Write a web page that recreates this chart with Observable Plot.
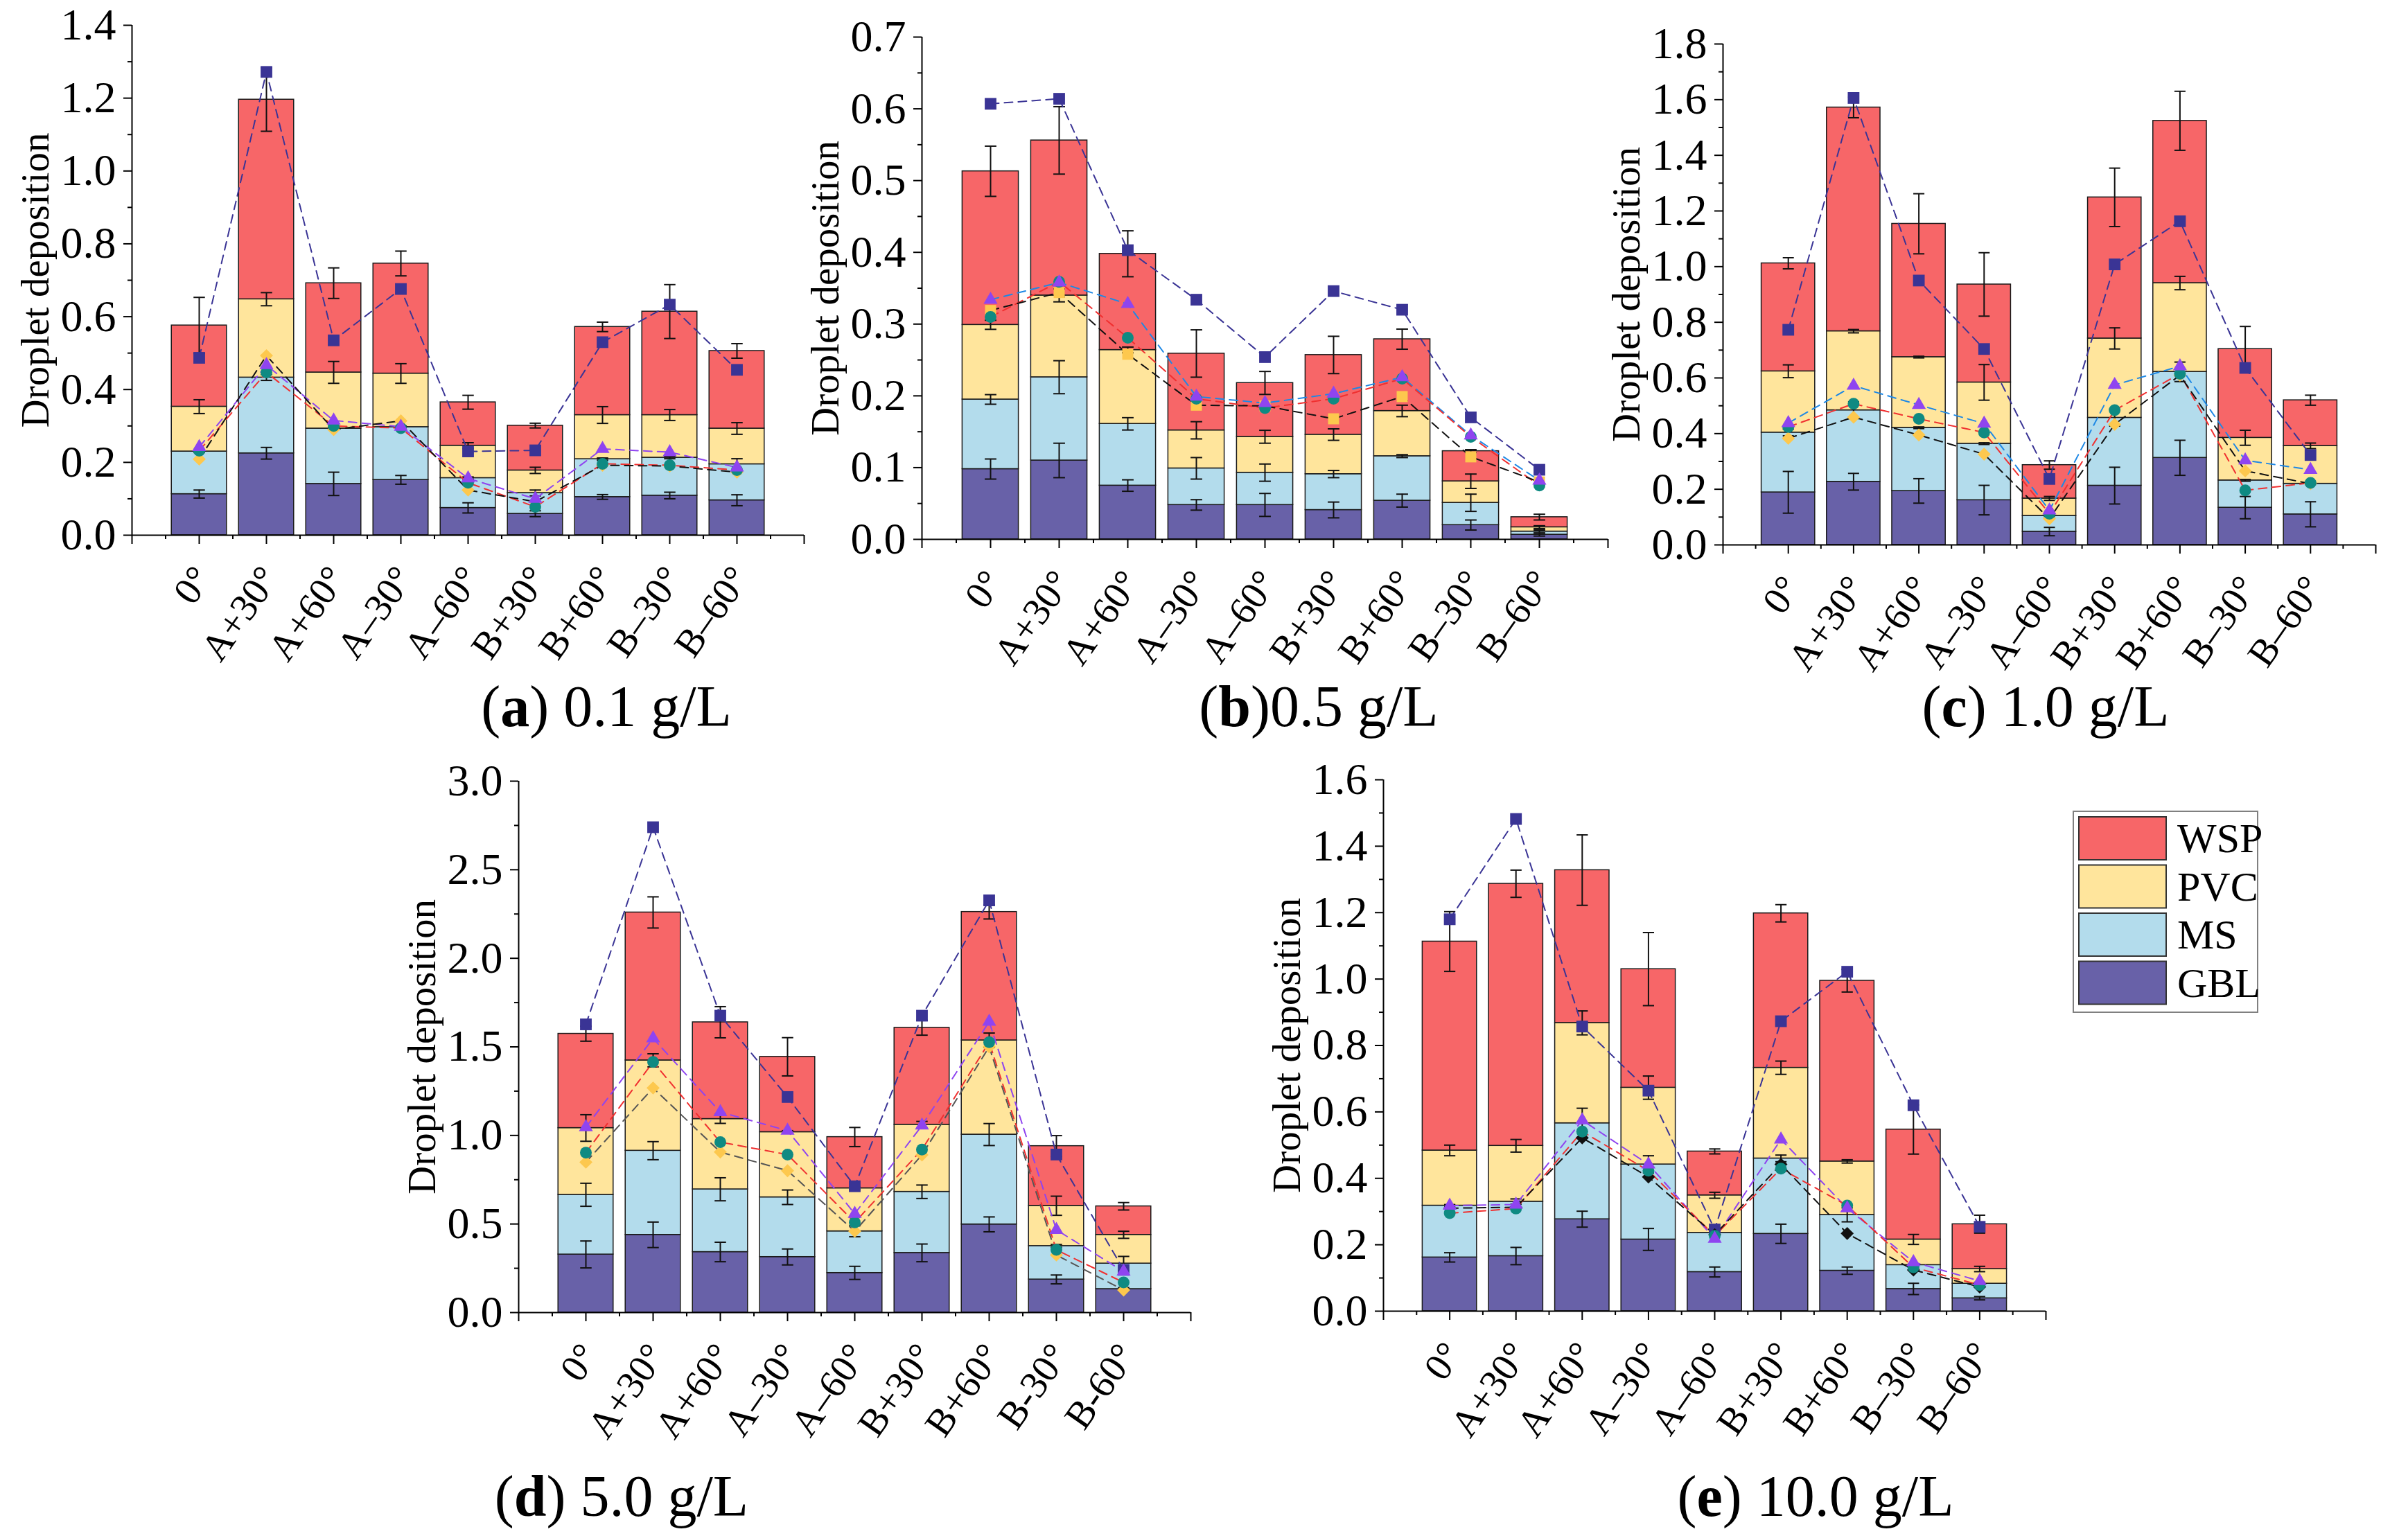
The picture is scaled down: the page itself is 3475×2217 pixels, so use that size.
<!DOCTYPE html>
<html><head><meta charset="utf-8">
<script src="https://cdn.jsdelivr.net/npm/d3@7"></script>
<script src="https://cdn.jsdelivr.net/npm/@observablehq/plot@0.6"></script>
<style>
body{margin:0;background:#fff;}
#root{position:relative;width:3475px;height:2217px;background:#fff;overflow:hidden;font-family:"Liberation Serif","Times New Roman",serif;}
.panel{position:absolute;}
.panel svg, .panel svg text{font-family:"Liberation Serif","Times New Roman",serif !important;}
</style></head><body><div id="root"></div>
<script>
// ---------- categories / tick labels ----------
const categories  = ["0°","A+30°","A+60°","A–30°","A–60°","B+30°","B+60°","B–30°","B–60°"];
const categoriesD = ["0°","A+30°","A+60°","A–30°","A–60°","B+30°","B+60°","B-30°","B-60°"];
const components = ["GBL","MS","PVC","WSP"];
const legendOrder = ["WSP","PVC","MS","GBL"];
const compColors = {GBL:"#6861a8", MS:"#b3dcec", PVC:"#ffe59c", WSP:"#f76668"};

// ---------- (a) 0.1 g/L ----------
const gblA = [0.113,0.225,0.141,0.152,0.075,0.059,0.105,0.109,0.096];
const msA  = [0.117,0.208,0.152,0.145,0.082,0.057,0.104,0.104,0.099];
const pvcA = [0.123,0.215,0.154,0.147,0.089,0.062,0.121,0.117,0.098];
const wspA = [0.223,0.548,0.245,0.302,0.119,0.123,0.242,0.284,0.213];
const gblErrA = [0.011,0.016,0.032,0.012,0.014,0.008,0.0065,0.009,0.015];
const msErrA  = [0.003,0.008,0.003,0.003,0.003,0.008,0.003,0.003,0.015];
const pvcErrA = [0.019,0.018,0.030,0.027,0.008,0.0085,0.023,0.015,0.016];
const wspErrA = [0.077,0.087,0.042,0.034,0.019,0.0065,0.013,0.074,0.020];
const sqA  = [0.487,1.272,0.535,0.676,0.230,0.233,0.530,0.633,0.454];
const triA = [0.242,0.467,0.315,0.298,0.156,0.100,0.237,0.228,0.186];
const cirA = [0.232,0.447,0.300,0.294,0.144,0.078,0.196,0.192,0.179];
const diaA = [0.209,0.493,0.290,0.314,0.124,0.092,0.192,0.190,0.173];

// ---------- (b) 0.5 g/L ----------
const gblB = [0.098,0.110,0.075,0.048,0.048,0.041,0.054,0.020,0.0066];
const msB  = [0.097,0.116,0.086,0.051,0.045,0.050,0.062,0.031,0.0044];
const pvcB = [0.104,0.114,0.103,0.053,0.050,0.055,0.063,0.030,0.006];
const wspB = [0.214,0.216,0.134,0.107,0.075,0.111,0.100,0.042,0.014];
const gblErrB = [0.014,0.024,0.008,0.0073,0.016,0.011,0.009,0.007,0.002];
const msErrB  = [0.0067,0.023,0.0086,0.015,0.012,0.005,0.002,0.012,0.002];
const pvcErrB = [0.0063,0.009,0.004,0.012,0.009,0.008,0.008,0.010,0.002];
const wspErrB = [0.035,0.047,0.032,0.033,0.016,0.026,0.014,0.002,0.004];
const sqB  = [0.607,0.614,0.403,0.334,0.254,0.346,0.320,0.170,0.097];
const triB = [0.334,0.358,0.328,0.199,0.190,0.203,0.226,0.145,0.082];
const cirB = [0.310,0.359,0.281,0.196,0.183,0.196,0.224,0.143,0.075];
const diaB = [0.319,0.344,0.258,0.187,0.186,0.168,0.199,0.115,0.080];

// ---------- (c) 1.0 g/L ----------
const gblC = [0.189,0.227,0.194,0.161,0.048,0.213,0.313,0.134,0.110];
const msC  = [0.215,0.257,0.227,0.203,0.057,0.244,0.309,0.098,0.110];
const pvcC = [0.220,0.284,0.254,0.220,0.062,0.285,0.319,0.153,0.136];
const wspC = [0.388,0.804,0.479,0.352,0.120,0.507,0.583,0.319,0.164];
const gblErrC = [0.075,0.030,0.044,0.053,0.015,0.066,0.063,0.040,0.045];
const msErrC  = [0.012,0.030,0.003,0.003,0.003,0.030,0.035,0.003,0.003];
const pvcErrC = [0.023,0.006,0.003,0.064,0.007,0.038,0.024,0.027,0.010];
const wspErrC = [0.020,0.037,0.108,0.114,0.015,0.105,0.106,0.081,0.018];
const sqC  = [0.773,1.606,0.950,0.704,0.237,1.008,1.163,0.636,0.323];
const triC = [0.438,0.572,0.503,0.436,0.124,0.575,0.642,0.304,0.270];
const cirC = [0.424,0.507,0.453,0.404,0.112,0.484,0.615,0.196,0.223];
const diaC = [0.383,0.459,0.395,0.326,0.094,0.433,0.610,0.266,0.220];

// ---------- (d) 5.0 g/L ----------
const gblD = [0.328,0.439,0.342,0.314,0.224,0.337,0.498,0.187,0.133];
const msD  = [0.337,0.475,0.354,0.337,0.235,0.345,0.507,0.189,0.144];
const pvcD = [0.377,0.510,0.397,0.368,0.243,0.379,0.532,0.227,0.162];
const wspD = [0.532,0.835,0.546,0.425,0.289,0.547,0.725,0.337,0.161];
const gblErrD = [0.076,0.072,0.055,0.045,0.037,0.050,0.042,0.025,0.008];
const msErrD  = [0.065,0.051,0.065,0.041,0.031,0.038,0.062,0.008,0.040];
const pvcErrD = [0.075,0.037,0.025,0.008,0.008,0.018,0.041,0.054,0.020];
const wspErrD = [0.042,0.088,0.088,0.108,0.054,0.042,0.040,0.059,0.021];
const sqD  = [1.627,2.740,1.676,1.217,0.713,1.676,2.327,0.892,0.241];
const triD = [1.047,1.548,1.132,1.027,0.558,1.056,1.642,0.467,0.232];
const cirD = [0.903,1.415,0.962,0.892,0.509,0.920,1.526,0.354,0.170];
const diaD = [0.849,1.268,0.906,0.801,0.459,0.890,1.500,0.325,0.127];

// ---------- (e) 10.0 g/L ----------
const gblE = [0.162,0.166,0.277,0.216,0.118,0.233,0.122,0.067,0.039];
const msE  = [0.156,0.164,0.289,0.226,0.118,0.227,0.168,0.072,0.044];
const pvcE = [0.166,0.168,0.302,0.231,0.113,0.273,0.161,0.077,0.044];
const wspE = [0.629,0.789,0.460,0.357,0.132,0.465,0.544,0.331,0.135];
const gblErrE = [0.014,0.026,0.024,0.033,0.015,0.029,0.011,0.017,0.005];
const msErrE  = [0.003,0.008,0.045,0.026,0.003,0.010,0.021,0.003,0.004];
const pvcErrE = [0.016,0.019,0.036,0.035,0.009,0.020,0.005,0.015,0.008];
const wspErrE = [0.090,0.041,0.106,0.110,0.0075,0.026,0.034,0.074,0.027];
const sqE  = [1.180,1.482,0.857,0.664,0.246,0.873,1.022,0.620,0.254];
const triE = [0.318,0.321,0.575,0.442,0.218,0.517,0.310,0.148,0.091];
const cirE = [0.295,0.309,0.541,0.423,0.227,0.429,0.318,0.132,0.079];
const diaE = [0.310,0.313,0.522,0.404,0.230,0.442,0.234,0.124,0.073];

const NAVY = "#3a3495", PURPLE = "#8f44f0", BLUE = "#1e88e5", RED = "#f03030", TEAL = "#0f8a82", YEL = "#fdc84e";

const panels = [
  {ax0:190, ax1:1160, yTop:36, yBase:772, ymax:1.4, step:0.2, labels:categories,
   segs:[gblA,msA,pvcA,wspA], errs:[gblErrA,msErrA,pvcErrA,wspErrA], sq:sqA, tri:triA, cir:cirA, dia:diaA,
   triLine:PURPLE, diaSym:"diamond2", diaFill:YEL, diaLine:"#111",
   capX:875, capY:1048, capB:"a", capRest:") 0.1 g/L"},
  {ax0:1330, ax1:2320, yTop:53, yBase:778, ymax:0.7, step:0.1, labels:categories,
   segs:[gblB,msB,pvcB,wspB], errs:[gblErrB,msErrB,pvcErrB,wspErrB], sq:sqB, tri:triB, cir:cirB, dia:diaB,
   triLine:BLUE, diaSym:"square", diaFill:YEL, diaLine:"#111",
   capX:1903, capY:1048, capB:"b", capRest:")0.5 g/L"},
  {ax0:2486, ax1:3428, yTop:63, yBase:786, ymax:1.8, step:0.2, labels:categories,
   segs:[gblC,msC,pvcC,wspC], errs:[gblErrC,msErrC,pvcErrC,wspErrC], sq:sqC, tri:triC, cir:cirC, dia:diaC,
   triLine:BLUE, diaSym:"diamond2", diaFill:YEL, diaLine:"#111",
   capX:2952, capY:1048, capB:"c", capRest:") 1.0 g/L"},
  {ax0:748, ax1:1718, yTop:1127, yBase:1894, ymax:3.0, step:0.5, labels:categoriesD,
   segs:[gblD,msD,pvcD,wspD], errs:[gblErrD,msErrD,pvcErrD,wspErrD], sq:sqD, tri:triD, cir:cirD, dia:diaD,
   triLine:PURPLE, diaSym:"diamond2", diaFill:YEL, diaLine:"#555",
   capX:897, capY:2188, capB:"d", capRest:") 5.0 g/L"},
  {ax0:1996, ax1:2952, yTop:1125, yBase:1892, ymax:1.6, step:0.2, labels:categories,
   segs:[gblE,msE,pvcE,wspE], errs:[gblErrE,msErrE,pvcErrE,wspErrE], sq:sqE, tri:triE, cir:cirE, dia:diaE,
   triLine:PURPLE, diaSym:"diamond2", diaFill:"#111", diaLine:"#111",
   capX:2620, capY:2188, capB:"e", capRest:") 10.0 g/L"}
];

const root = document.getElementById("root");
const FONT = "Liberation Serif, Times New Roman, serif";

function buildPanel(cfg) {
  const n = categories.length;
  const rows = [];
  for (let i = 0; i < n; i++) {
    let base = 0;
    for (let k = 0; k < components.length; k++) {
      const v = cfg.segs[k][i];
      rows.push({pos: i + 1, comp: components[k], y1: base, y2: base + v, err: cfg.errs[k][i]});
      base += v;
    }
  }
  const pts = vals => vals.map((v, i) => ({pos: i + 1, v}));
  const nMajor = Math.round(cfg.ymax / cfg.step);
  const major = d3.range(0, nMajor + 1).map(i => +(i * cfg.step).toFixed(3));
  const minor = d3.range(0, nMajor).map(i => +((i + 0.5) * cfg.step).toFixed(4));
  const ml = 200, mr = 30, mt = 40, mb = 240;
  const plotW = cfg.ax1 - cfg.ax0, plotH = cfg.yBase - cfg.yTop;
  const W = ml + plotW + mr, H = mt + plotH + mb;
  const dash = "12,8";
  const svg = Plot.plot({
    width: W, height: H,
    marginLeft: ml, marginRight: mr, marginTop: mt, marginBottom: mb,
    x: {domain: [0, 10]},
    y: {domain: [0, cfg.ymax]},
    style: `font-family: ${FONT}; color: #000; background: transparent; overflow: visible; max-width: none;`,
    marks: [
      Plot.rectY(rows, {x1: d => d.pos - 0.41, x2: d => d.pos + 0.41, y1: "y1", y2: "y2",
        fill: d => compColors[d.comp], stroke: "#1a1a1a", strokeWidth: 1.5}),
      Plot.ruleX(rows, {x: "pos", y1: d => d.y2 - d.err, y2: d => d.y2 + d.err, stroke: "#111", strokeWidth: 2}),
      Plot.link(rows, {x1: d => d.pos - 0.085, x2: d => d.pos + 0.085, y1: d => d.y2 + d.err, y2: d => d.y2 + d.err, stroke: "#111", strokeWidth: 2}),
      Plot.link(rows, {x1: d => d.pos - 0.085, x2: d => d.pos + 0.085, y1: d => d.y2 - d.err, y2: d => d.y2 - d.err, stroke: "#111", strokeWidth: 2}),
      Plot.ruleX([0], {stroke: "#000", strokeWidth: 2}),
      Plot.ruleY([0], {stroke: "#000", strokeWidth: 2}),
      Plot.axisY({ticks: major, tickSize: 12, tickPadding: 11, tickFormat: d3.format(".1f"), fontSize: 64, fontFamily: FONT, label: null, strokeWidth: 2}),
      Plot.axisY({ticks: minor, tickSize: 6, tickFormat: () => "", label: null, strokeWidth: 2}),
      Plot.axisX({ticks: d3.range(0, 11), tickSize: 13, tickFormat: () => "", label: null, strokeWidth: 2}),
      Plot.axisX({ticks: d3.range(0, 10).map(i => i + 0.5), tickSize: 6, tickFormat: () => "", label: null, strokeWidth: 2}),
      Plot.text(cfg.labels, {x: (d, i) => i + 1, frameAnchor: "bottom", dx: 20, dy: 62, rotate: -55,
        textAnchor: "end", fontSize: 56, fontFamily: FONT, fill: "#000"}),
      Plot.text(["Droplet deposition"], {frameAnchor: "left", dx: -139, rotate: -90, textAnchor: "middle",
        fontSize: 57, fontFamily: FONT, fill: "#000"}),
      Plot.line(pts(cfg.sq), {x: "pos", y: "v", stroke: NAVY, strokeWidth: 2, strokeDasharray: dash}),
      Plot.line(pts(cfg.tri), {x: "pos", y: "v", stroke: cfg.triLine, strokeWidth: 2, strokeDasharray: dash}),
      Plot.line(pts(cfg.cir), {x: "pos", y: "v", stroke: RED, strokeWidth: 2, strokeDasharray: dash}),
      Plot.line(pts(cfg.dia), {x: "pos", y: "v", stroke: cfg.diaLine, strokeWidth: 2, strokeDasharray: dash}),
      Plot.dot(pts(cfg.sq), {x: "pos", y: "v", symbol: "square", r: 9.5, fill: NAVY}),
      Plot.dot(pts(cfg.dia), {x: "pos", y: "v", symbol: cfg.diaSym, r: cfg.diaSym === "square" ? 9 : 8.5, fill: cfg.diaFill}),
      Plot.dot(pts(cfg.cir), {x: "pos", y: "v", symbol: "circle", r: 8.5, fill: TEAL}),
      Plot.dot(pts(cfg.tri), {x: "pos", y: "v", symbol: "triangle", r: 7.5, fill: PURPLE})
    ]
  });
  const div = document.createElement("div");
  div.className = "panel";
  div.style.left = (cfg.ax0 - ml) + "px";
  div.style.top = (cfg.yTop - mt) + "px";
  div.style.width = W + "px";
  div.style.height = H + "px";
  div.appendChild(svg);
  root.appendChild(div);
}
panels.forEach(buildPanel);

// ---------- captions and legend (overlay) ----------
const ov = d3.create("svg").attr("width", 3475).attr("height", 2217)
  .style("position", "absolute").style("left", "0px").style("top", "0px")
  .style("font-family", FONT).style("overflow", "visible");
for (const p of panels) {
  const t = ov.append("text").attr("x", p.capX).attr("y", p.capY).attr("text-anchor", "middle")
    .attr("font-size", 84).attr("fill", "#000");
  t.append("tspan").text("(");
  t.append("tspan").attr("font-weight", "bold").text(p.capB);
  t.append("tspan").text(p.capRest);
}
const lg = ov.append("g");
lg.append("rect").attr("x", 2992).attr("y", 1171).attr("width", 266).attr("height", 290)
  .attr("fill", "#fff").attr("stroke", "#808080").attr("stroke-width", 2);
legendOrder.forEach((name, i) => {
  const y0 = 1179 + i * 69.5;
  lg.append("rect").attr("x", 3000).attr("y", y0).attr("width", 126).attr("height", 62)
    .attr("fill", compColors[name]).attr("stroke", "#333").attr("stroke-width", 2);
  lg.append("text").attr("x", 3142).attr("y", y0 + 51).attr("font-size", 60).attr("fill", "#000").text(name);
});
root.appendChild(ov.node());
</script>
</body></html>
